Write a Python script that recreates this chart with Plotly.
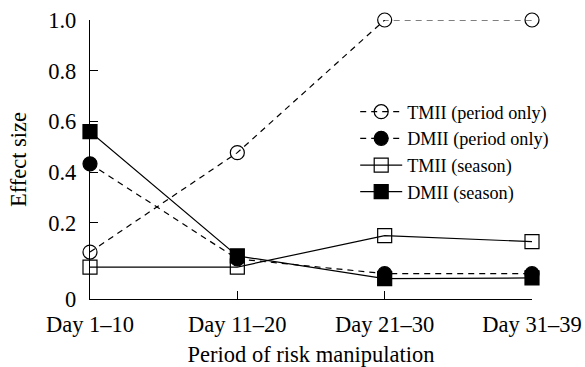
import plotly.graph_objects as go

categories = ["Day 1\u201310", "Day 11\u201320", "Day 21\u201330", "Day 31\u201339"]
tmii_period = [0.085, 0.477, 1.0, 1.0]
dmii_period = [0.433, 0.058, 0.0, 0.0]
tmii_season = [0.026, 0.026, 0.150, 0.126]
dmii_season = [0.560, 0.070, -0.020, -0.017]

y_tick_vals = [-0.1, 0.2, 0.4, 0.6, 0.8, 1.0]
y_tick_text = ["0", "0.2", "0.4", "0.6", "0.8", "1.0"]

FONT = "Liberation Serif"

fig = go.Figure()

series = [
    ("TMII (period only)", tmii_period, "circle-open", "6px,5px"),
    ("DMII (period only)", dmii_period, "circle", "6px,5px"),
    ("TMII (season)", tmii_season, "square-open", "solid"),
    ("DMII (season)", dmii_season, "square", "solid"),
]
for name, vals, sym, dash in series:
    fig.add_trace(go.Scatter(
        x=categories, y=vals, name=name, mode="lines+markers",
        line=dict(color="black", width=1.2, dash=dash),
        marker=dict(symbol=sym, size=14, color="black",
                    line=dict(color="black", width=1.2)),
        cliponaxis=False,
    ))

fig.update_layout(
    width=585, height=367,
    margin=dict(l=90, r=53, t=20, b=68),
    paper_bgcolor="white", plot_bgcolor="white",
    font=dict(family=FONT, color="black", size=22.5),
    showlegend=True,
    legend=dict(
        x=0.6, y=0.737, xanchor="left", yanchor="top",
        font=dict(family=FONT, size=18.2, color="black"),
        bgcolor="rgba(0,0,0,0)", itemwidth=42,
        tracegroupgap=0,
    ),
    xaxis=dict(
        type="category", range=[0, 3], automargin=False,
        showline=True, linecolor="black", linewidth=1.3,
        ticks="inside", ticklen=8, tickwidth=1.3, tickcolor="black",
        showgrid=False, zeroline=False,
        tickfont=dict(family=FONT, size=22.5),
        ticklabelstandoff=5,
        title=dict(text="Period of risk manipulation", font=dict(family=FONT, size=22.5)),
    ),
    yaxis=dict(
        range=[-0.1, 1.0], automargin=False,
        tickvals=y_tick_vals, ticktext=y_tick_text,
        showline=True, linecolor="black", linewidth=1.3,
        ticks="inside", ticklen=8, tickwidth=1.3, tickcolor="black",
        showgrid=False, zeroline=False,
        tickfont=dict(family=FONT, size=22.5),
        ticklabelstandoff=8,
        title=dict(text="Effect size", font=dict(family=FONT, size=22.5)),
    ),
)

fig.write_html("out.html")
